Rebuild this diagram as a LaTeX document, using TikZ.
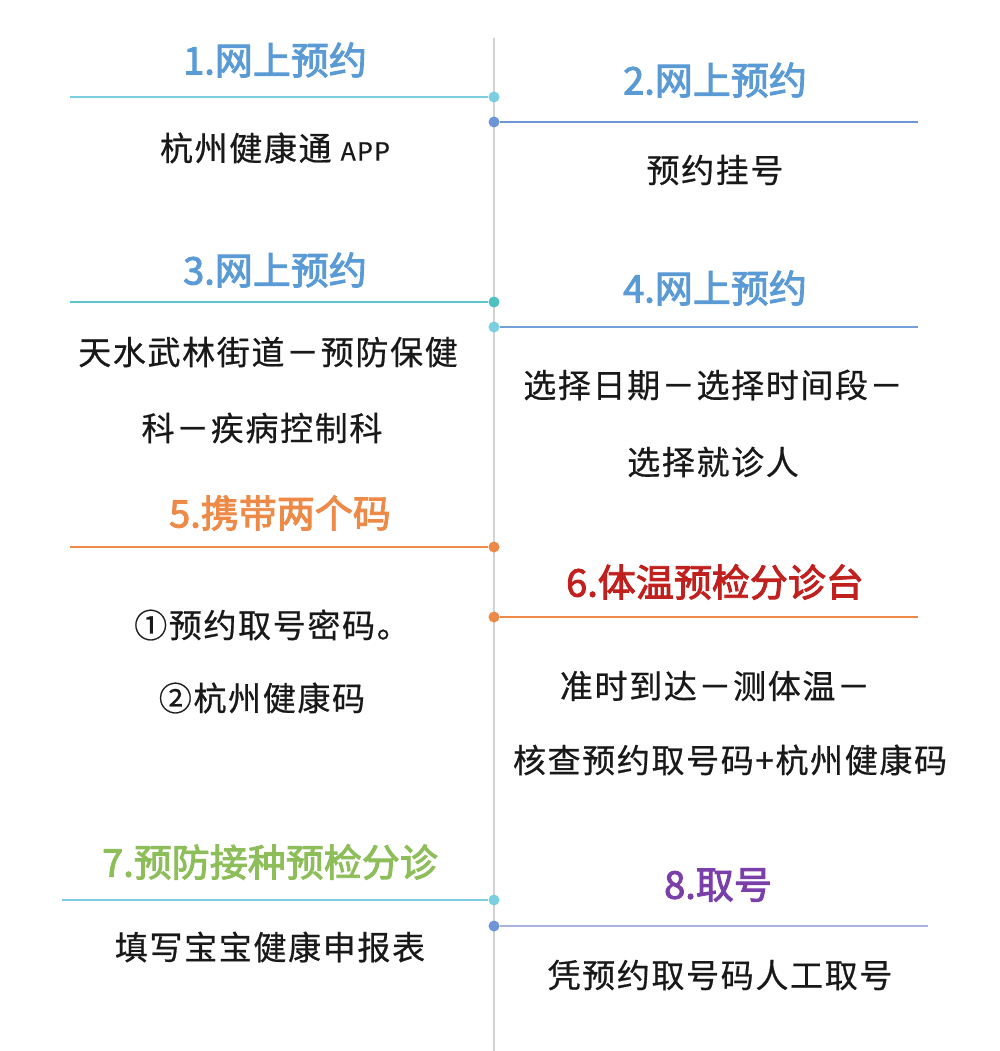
\documentclass[tikz,border=0pt]{standalone}
\usepackage{fontspec}
\setmainfont{Noto Sans CJK SC}
\newfontfamily\cjkb[FakeBold=2.5]{Noto Sans CJK SC}
\newfontfamily\cjkm[FakeBold=0.6,LetterSpace=5]{Noto Sans CJK SC}
\begin{document}
\begin{tikzpicture}[x=1pt,y=-1pt,
 ttl/.style={font=\cjkb\fontsize{38}{40}\selectfont},
 txt/.style={font=\cjkm\fontsize{33}{36}\selectfont,text=black!90},
 ln/.style={line width=2pt},
 dt/.style={circle,fill,inner sep=0pt,minimum size=11pt}]
\useasboundingbox[fill=white] (0,0) rectangle (1000,1051);
\definecolor{cy}{HTML}{7CCFE0}\definecolor{bl}{HTML}{6E95D6}
\definecolor{tb}{HTML}{5B9BD5}\definecolor{tl}{HTML}{4FC1C0}
\definecolor{og}{HTML}{EE8A48}\definecolor{dr}{HTML}{C0201E}
\definecolor{gr}{HTML}{8DBE5A}\definecolor{pu}{HTML}{7A3FA8}
\definecolor{lv}{HTML}{A9B3E0}
\coordinate (top) at (494,38); \coordinate (bot) at (494,1051);
\draw[gray!35,line width=1.5pt] (top)--(bot);
% 1
\node[ttl,text=tb] (t1) at (275,60) {1.网上预约};
\coordinate (a1) at (70,97); \node[dt,fill=cy] (d1) at (494,97) {};
\draw[ln,cy] (a1)--(d1);
\node[txt] (x1) at (275,148) {杭州健康通 {\fontsize{25}{26}\selectfont APP}};
% 2
\node[ttl,text=tb] (t2) at (715,80) {2.网上预约};
\node[dt,fill=bl] (d2) at (494,122) {}; \coordinate (b2) at (918,122);
\draw[ln,bl] (d2)--(b2);
\node[txt] (x2) at (715,170) {预约挂号};
% 3
\node[ttl,text=tb] (t3) at (275,270) {3.网上预约};
\coordinate (a3) at (70,302); \node[dt,fill=tl] (d3) at (494,302) {};
\draw[ln,tl!70!cy] (a3)--(d3);
\node[txt] (x3a) at (268,352) {天水武林街道－预防保健};
\node[txt] (x3b) at (262,428) {科－疾病控制科};
% 4
\node[ttl,text=tb] (t4) at (715,288) {4.网上预约};
\node[dt,fill=cy] (d4) at (494,327) {}; \coordinate (b4) at (918,327);
\draw[ln,bl!80!cy] (d4)--(b4);
\node[txt] (x4a) at (713,385) {选择日期－选择时间段－};
\node[txt] (x4b) at (713,462) {选择就诊人};
% 5
\node[ttl,text=og] (t5) at (280,513) {5.携带两个码};
\coordinate (a5) at (70,547); \node[dt,fill=og] (d5) at (494,547) {};
\draw[ln,og] (a5)--(d5);
\node[txt] (x5a) at (272,625) {①预约取号密码。};
\node[txt] (x5b) at (262,698) {②杭州健康码};
% 6
\node[ttl,text=dr] (t6) at (715,582) {6.体温预检分诊台};
\node[dt,fill=og] (d6) at (494,617) {}; \coordinate (b6) at (918,617);
\draw[ln,og] (d6)--(b6);
\node[txt] (x6a) at (715,686) {准时到达－测体温－};
\node[txt] (x6b) at (730,760) {核查预约取号码+杭州健康码};
% 7
\node[ttl,text=gr] (t7) at (270,862) {7.预防接种预检分诊};
\coordinate (a7) at (62,900); \node[dt,fill=cy] (d7) at (494,900) {};
\draw[ln,cy] (a7)--(d7);
\node[txt] (x7) at (270,947) {填写宝宝健康申报表};
% 8
\node[ttl,text=pu] (t8) at (718,885) {8.取号};
\node[dt,fill=bl] (d8) at (494,926) {}; \coordinate (b8) at (928,926);
\draw[ln,lv] (d8)--(b8);
\node[txt] (x8) at (720,975) {凭预约取号码人工取号};
\end{tikzpicture}
\end{document}
